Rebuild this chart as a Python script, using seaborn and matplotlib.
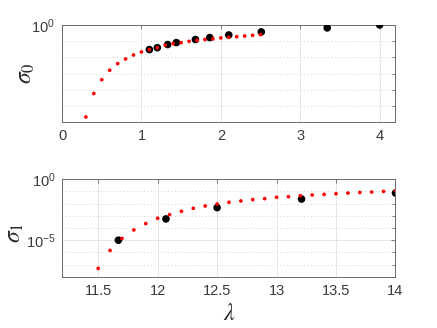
import numpy as np
import pandas as pd
import matplotlib
matplotlib.use('Agg')
import matplotlib.pyplot as plt
import seaborn as sns

# sigma_0 (top panel)
lam0_fit = [0.3, 0.4, 0.5, 0.6, 0.7, 0.8, 0.9, 1.0, 1.1, 1.2, 1.3, 1.4, 1.5, 1.6,
            1.7, 1.8, 1.9, 2.0, 2.1, 2.2, 2.3, 2.4, 2.5]
sig0_fit = [0.271, 0.378, 0.460, 0.526, 0.578, 0.617, 0.653, 0.682, 0.705, 0.724,
            0.750, 0.767, 0.778, 0.792, 0.804, 0.813, 0.820, 0.832, 0.839, 0.847,
            0.855, 0.863, 0.871]
lam0_pts = [1.10, 1.20, 1.33, 1.44, 1.68, 1.86, 2.10, 2.51, 3.34, 4.0]
sig0_pts = [0.705, 0.724, 0.757, 0.778, 0.813, 0.836, 0.867, 0.906, 0.959, 1.0]

# sigma_1 (bottom panel)
lam1_fit = [11.5, 11.6, 11.7, 11.8, 11.9, 12.0, 12.1, 12.2, 12.3, 12.4, 12.5, 12.6, 12.7,
            12.8, 12.9, 13.0, 13.1, 13.2, 13.3, 13.4, 13.5, 13.6, 13.7, 13.8, 13.9, 14.0]
sig1_fit = [4.9e-8, 1.45e-6, 1.38e-5, 6.9e-5, 2.29e-4, 6.2e-4, 1.23e-3, 2.29e-3, 4.07e-3,
            6.3e-3, 9.1e-3, 1.26e-2, 1.62e-2, 2.09e-2, 2.51e-2, 3.24e-2, 3.63e-2, 4.37e-2,
            5.0e-2, 5.6e-2, 6.3e-2, 7.2e-2, 8.1e-2, 8.7e-2, 9.8e-2, 0.112]
lam1_pts = [11.67, 12.07, 12.5, 13.21, 14.0]
sig1_pts = [1.0e-5, 5.5e-4, 4.6e-3, 2.34e-2, 7.2e-2]

sns.set_style('white')
plt.rcParams['font.family'] = ['Liberation Sans', 'DejaVu Sans']
plt.rcParams['mathtext.fontset'] = 'stix'

fig = plt.figure(figsize=(4.37, 3.28), dpi=100)
ax0 = fig.add_axes([0.142, 0.627, 0.763, 0.297])
ax1 = fig.add_axes([0.143, 0.156, 0.762, 0.298])

def style_axis(ax):
    for s in ax.spines.values():
        s.set_color('#6a6a6a')
        s.set_linewidth(0.7)
    ax.tick_params(which='both', direction='in', top=True, right=True,
                   color='#6a6a6a', labelcolor='#3a3a3a', labelsize=10.5, width=0.6)
    ax.tick_params(which='major', length=3, pad=5)
    ax.tick_params(which='minor', length=2)
    ax.grid(True, which='major', color='#e6e6e6', linewidth=0.7, linestyle='-')
    ax.grid(True, which='minor', color='#d2d2d2', linewidth=0.7, linestyle=(0, (1, 2.5)))
    ax.set_axisbelow(True)

# top panel
sns.scatterplot(x=lam0_pts, y=sig0_pts, ax=ax0, color='black', s=30, edgecolor='none', zorder=3)
sns.scatterplot(x=lam0_fit, y=sig0_fit, ax=ax0, color='red', s=7, edgecolor='none', zorder=4)
ax0.set_yscale('log')
ax0.set_xlim(0, 4.2)
ax0.set_ylim(10 ** -0.6, 1)
ax0.set_xticks([0, 1, 2, 3, 4])
ax0.set_yticks([1])
ax0.set_yticklabels([r'$\mathregular{10^{0}}$'])
ax0.set_yticks([10 ** -0.1, 10 ** -0.2, 10 ** -0.3, 10 ** -0.4, 10 ** -0.5], minor=True)
ax0.set_yticklabels([], minor=True)
ax0.set_ylabel(r'$\sigma_0$', fontsize=17)
ax0.yaxis.set_label_coords(-0.075, 0.5)
style_axis(ax0)

# bottom panel
sns.scatterplot(x=lam1_pts, y=sig1_pts, ax=ax1, color='black', s=30, edgecolor='none', zorder=3)
sns.scatterplot(x=lam1_fit, y=sig1_fit, ax=ax1, color='red', s=7, edgecolor='none', zorder=4)
ax1.set_yscale('log')
ax1.set_xlim(11.2, 14)
ax1.set_ylim(1e-8, 1)
ax1.set_xticks([11.5, 12, 12.5, 13, 13.5, 14])
ax1.set_xticklabels(['11.5', '12', '12.5', '13', '13.5', '14'])
ax1.set_yticks([1e-5, 1])
ax1.set_yticklabels([r'$\mathregular{10^{-5}}$', r'$\mathregular{10^{0}}$'])
ax1.set_yticks([1e-1, 1e-2, 1e-3, 1e-4, 1e-6, 1e-7], minor=True)
ax1.set_yticklabels([], minor=True)
ax1.set_ylabel(r'$\sigma_1$', fontsize=17)
ax1.yaxis.set_label_coords(-0.11, 0.45)
ax1.set_xlabel(r'$\lambda$', fontsize=17)
ax1.xaxis.set_label_coords(0.5, -0.27)
style_axis(ax1)

fig.savefig('out.png', dpi=100)
